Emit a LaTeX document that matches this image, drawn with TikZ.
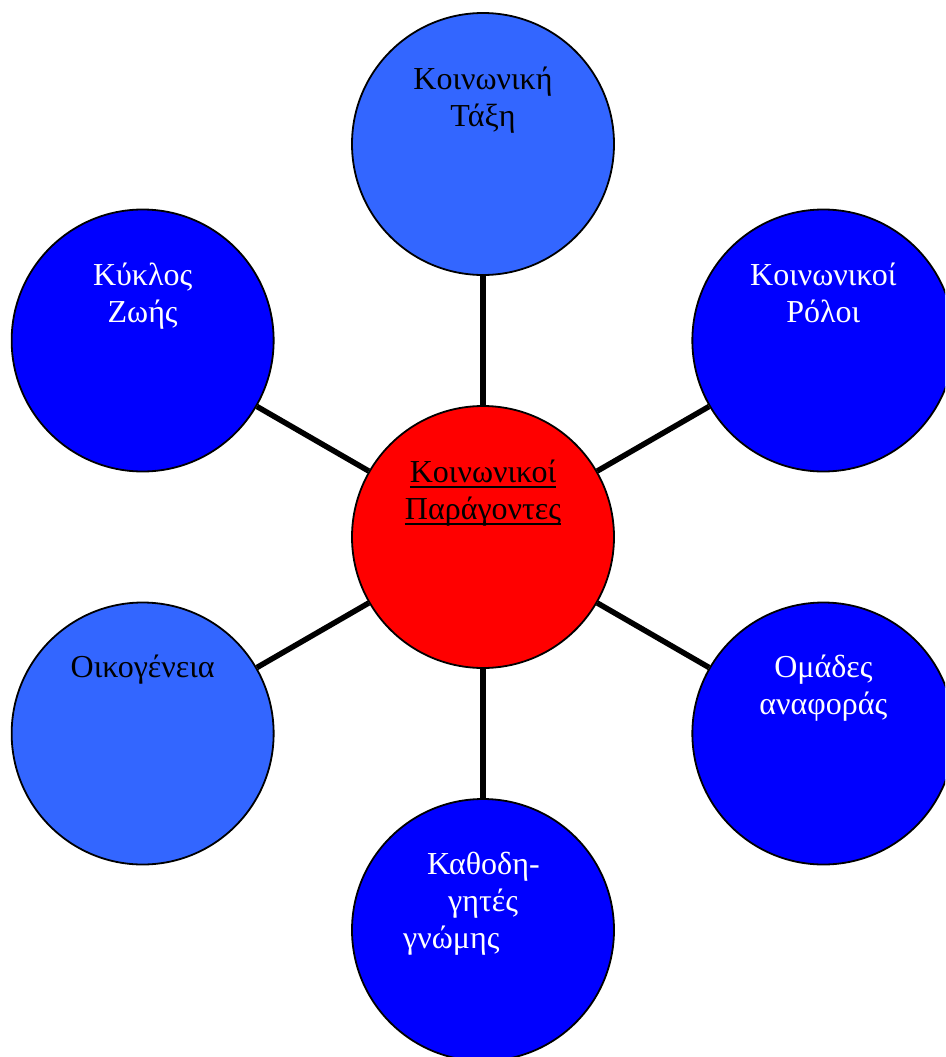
\documentclass[tikz,border=0pt]{standalone}
\usepackage{fontspec}
\setmainfont{Liberation Serif}
\usepackage{tikz}
\definecolor{paleblue}{HTML}{3366FF}
\definecolor{deepblue}{HTML}{0000FF}
\newcommand\ulword[1]{\setbox0\hbox{#1}\rlap{\rule[-6pt]{\wd0}{1.8pt}}\box0}
\tikzset{
	bubble/.style={circle,draw=black,line width=1.8pt,minimum size=262pt,inner sep=0pt},
	link/.style={line width=5.5pt},
	txt/.style={font=\fontsize{32}{37}\selectfont,align=center,inner sep=0pt,anchor=base}
}
\begin{document}
\begin{tikzpicture}[x=1pt,y=1pt]
		\useasboundingbox (0,0) rectangle (945,-1057);
		\clip (0,0) rectangle (945,-1057);
		\node[bubble,fill=red] (kp) at (483,-537) {};
		\foreach \a/\n/\c in{90/taxi/paleblue,30/roloi/deepblue,-30/omades/deepblue,-90/kathod/deepblue,210/oikog/paleblue,150/kyklos/deepblue}{
			\node[bubble,fill=\c] (\n) at ([shift={(\a:393)}]kp.center) {};
			\draw[link] (kp)--(\n);
		}
		
		% base anchor sits on the last line
		\node[txt] (kp-t) at ([yshift=18]kp.center) {\ulword{Κοινωνικοί}\\\ulword{Παράγοντες}};
		\node[txt] (taxi-t) at ([yshift=18]taxi.center) {Κοινωνική\\Τάξη};
		\node[txt,text=white] (roloi-t) at ([yshift=18]roloi.center) {Κοινωνικοί\\Ρόλοι};
		\node[txt,text=white] (omades-t) at ([yshift=19]omades.center) {Ομάδες\\αναφοράς};
		\node[txt,text=white,align=left,anchor=base west] (kathod-t) at ([shift={(-80,-18)}]kathod.center) {\hspace*{24pt}Καθοδη-\\\hspace*{45pt}γητές\\γνώμης};
		\node[txt] (oikog-t) at ([yshift=56]oikog.center) {Οικογένεια};
		\node[txt,text=white] (kyklos-t) at ([yshift=18]kyklos.center) {Κύκλος\\Ζωής};
	\end{tikzpicture}
\end{document}
